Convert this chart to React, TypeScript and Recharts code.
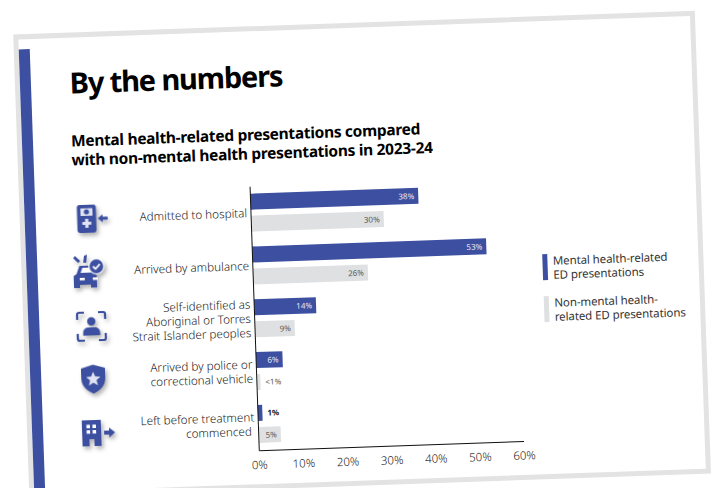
import React from 'react';
import { BarChart, Bar, XAxis, YAxis, LabelList, Legend } from 'recharts';

const BLUE = '#3c4fa0';
const GREY = '#dfe0e2';
const FONT = '"Noto Sans", sans-serif';

const categoryLines = [
  ['Admitted to hospital'],
  ['Arrived by ambulance'],
  ['Self-identified as', 'Aboriginal or Torres', 'Strait Islander peoples'],
  ['Arrived by police or', 'correctional vehicle'],
  ['Left before treatment', 'commenced\u00a0'],
];
const mentalValues = [38, 53, 14, 6, 1];
const otherValues = [30, 26, 9, 0.8, 5];
const mentalLabels = ['38%', '53%', '14%', '6%', '1%'];
const otherLabels = ['30%', '26%', '9%', '<1%', '5%'];
const xTicks = [0, 10, 20, 30, 40, 50, 60];

const tableData = categoryLines.map((lines, i) => ({
  name: lines.join(' '),
  mental: mentalValues[i],
  other: otherValues[i],
  mentalLabel: mentalLabels[i],
  otherLabel: otherLabels[i],
}));

const seriesNames = [
  ['Mental health-related', 'ED presentations'],
  ['Non-mental health-', 'related ED presentations'],
];

// Small pictograms shown to the left of each row
const DeviceIcon = () => (
  <g transform="translate(-1,0)">
    <rect x={-9.5} y={-14} width={19} height={28} rx={2.5} fill={BLUE} />
    <rect x={-6} y={-10.5} width={12} height={7.5} fill="#dfe3f2" />
    <circle cx={0} cy={-7} r={2.6} fill={BLUE} />
    <path d="M-1.6 0h3.2v2.9h2.9v3.2h-2.9v2.9h-3.2v-2.9h-2.9v-3.2h2.9z" fill="#dfe3f2" />
    <path d="M11 0l5-4v2.6h5v2.8h-5v2.6z" fill={BLUE} />
  </g>
);

const CarIcon = () => (
  <g transform="translate(0,4)">
    <path d="M-13 -2l3 -8h12l3 8 2 2v12h-6v-3h-11v3h-6v-12z" fill={BLUE} />
    <path d="M-9 -3l2 -5h7l2 5z" fill="#fff" />
    <rect x={-10} y={2} width={5} height={2.5} fill="#fff" />
    <rect x={3} y={2} width={5} height={2.5} fill="#fff" />
    <path d="M-5 -20l-1 7h3l1-8zM-14 -20l5 5-2 2-5-5z" fill={BLUE} />
    <circle cx={7} cy={-9} r={7.5} fill={BLUE} stroke="#fff" strokeWidth={1.2} />
    <path d="M3.6 -9l2.5 2.5 4.4-4.6" fill="none" stroke="#fff" strokeWidth={1.8} />
  </g>
);

const PersonIcon = () => (
  <g transform="translate(0,2)">
    <path
      d="M-14 -7v-5a2 2 0 0 1 2-2h5M7 -14h5a2 2 0 0 1 2 2v5M14 7v5a2 2 0 0 1-2 2h-5M-7 14h-5a2 2 0 0 1-2-2v-5"
      fill="none"
      stroke={BLUE}
      strokeWidth={2.2}
    />
    <circle cx={0} cy={-5} r={4.2} fill={BLUE} />
    <path d="M-8.5 9v-3a5 5 0 0 1 5-5h7a5 5 0 0 1 5 5v3z" fill={BLUE} />
  </g>
);

const ShieldIcon = () => (
  <g transform="translate(0,2)">
    <path d="M0 -14.5l12 3.5v10c0 8-6 12.5-12 15.5-6-3-12-7.500-12-15.500v-10z" fill={BLUE} />
    <path d="M0 -7.500l2 4.800 5.200.4-4 3.400 1.300 5.100-4.500-2.800-4.500 2.800 1.300-5.100-4-3.400 5.200-.4z" fill="#dfe3f2" />
  </g>
);

const BuildingIcon = () => (
  <g transform="translate(1,3)">
    <path d="M-14 -13h19v4v22h-7v-7h-5v7h-7z" fill={BLUE} />
    {[-9.5, -3.5].map((x) =>
      [-8.5, -3].map((y) => <rect key={`${x}${y}`} x={x} y={y} width={3.5} height={3.5} fill="#fff" />),
    )}
    <path d="M8 -2h5v-3l6 5-6 5v-3h-5z" fill={BLUE} />
  </g>
);

const rowIcons = [DeviceIcon, CarIcon, PersonIcon, ShieldIcon, BuildingIcon];

const CategoryTick = ({ y, index }: any) => {
  const lines = categoryLines[index];
  const Icon = rowIcons[index];
  const first = -((lines.length - 1) * 14.2) / 2;
  return (
    <g>
      <g transform={`translate(80,${y})`} style={{ filter: 'drop-shadow(2px 3px 2px rgba(0,0,0,0.3))' }}>
        <Icon />
      </g>
      <text x={239.6} y={y} textAnchor="end" fontFamily={FONT} fontSize={11.7} fontWeight={300} fill="#222">
        {lines.map((line, i) => (
          <tspan key={line} x={239.6} y={y + first + i * 14.2 + 4}>
            {line}
          </tspan>
        ))}
      </text>
    </g>
  );
};

// Labels sit inside the bar end, or just past it when the bar is too short
const barLabel = (insideColor: string, outsideColor: string, outsideWeight: number) => (props: any) => {
  const { x, y, width, height, value } = props;
  const outside = width < 8;
  return (
    <text
      x={outside ? x + width + 5 : x + width - 4}
      y={y + height / 2 + 3}
      textAnchor={outside ? 'start' : 'end'}
      fontFamily={FONT}
      fontSize={8}
      fontWeight={outside ? outsideWeight : 400}
      fill={outside ? outsideColor : insideColor}
    >
      {value}
    </text>
  );
};

const SeriesKey = () => (
  <div
    style={{
      position: 'relative',
      fontFamily: FONT,
      fontSize: 11.5,
      lineHeight: '14px',
      letterSpacing: -0.1,
      color: '#333',
    }}
  >
    {seriesNames.map((lines, i) => (
      <div key={lines[0]} style={{ position: 'absolute', left: 0, top: i * 42.8, whiteSpace: 'nowrap' }}>
        <div style={{ position: 'absolute', left: 0, top: 0, width: 5.7, height: 26, background: i === 0 ? BLUE : GREY }} />
        <div style={{ position: 'absolute', left: 10.8, top: 0 }}>
          {lines.map((line) => (
            <div key={line}>{line}</div>
          ))}
        </div>
      </div>
    ))}
  </div>
);

export default function App() {
  return (
    <div style={{ position: 'fixed', left: 0, top: 0, width: 713, height: 488, overflow: 'hidden', background: '#fff' }}>
      <div
        style={{
          position: 'absolute',
          left: 0,
          top: 0,
          width: 713,
          height: 560,
          transform: 'rotate(-2deg)',
          transformOrigin: '0 0',
        }}
      >
        <div
          style={{
            position: 'absolute',
            left: 12,
            top: 34.5,
            width: 681.5,
            height: 463,
            boxSizing: 'border-box',
            border: '5px solid #e3e3e3',
          }}
        />
        <div style={{ position: 'absolute', left: 16.6, top: 50, width: 11.7, height: 500, background: BLUE }} />
        <div
          style={{
            position: 'absolute',
            left: 66.7,
            top: 61,
            fontFamily: FONT,
            fontWeight: 700,
            fontSize: 29,
            letterSpacing: -1.14,
            lineHeight: '48px',
            color: '#000',
            whiteSpace: 'nowrap',
          }}
        >
          By the numbers
        </div>
        <div
          style={{
            position: 'absolute',
            left: 66,
            top: 134,
            fontFamily: FONT,
            fontWeight: 700,
            fontSize: 15.5,
            letterSpacing: -0.3,
            lineHeight: '19.3px',
            color: '#000',
            whiteSpace: 'nowrap',
          }}
        >
          <div>Mental health-related presentations compared</div>
          <div>with non-mental health presentations in 2023-24</div>
        </div>
        <div style={{ position: 'absolute', left: 0, top: 0 }}>
          <BarChart
            width={713}
            height={560}
            layout="vertical"
            data={tableData}
            barSize={16}
            barGap={6}
            margin={{ top: 195.3, right: 204.7, bottom: 70.5, left: 0 }}
          >
            <XAxis
              type="number"
              domain={[0, 60]}
              ticks={xTicks}
              tickFormatter={(v: number) => `${v}%`}
              tickLine={false}
              axisLine={{ stroke: '#111', strokeWidth: 1 }}
              tick={{ fontFamily: FONT, fontSize: 11.5, fontWeight: 300, fill: '#222' }}
              tickMargin={4}
              height={30}
              interval={0}
            />
            <YAxis
              type="category"
              dataKey="name"
              width={243.4}
              tickLine={false}
              axisLine={{ stroke: '#111', strokeWidth: 1 }}
              tick={(props: any) => <CategoryTick {...props} />}
              interval={0}
            />
            {/* centred vertical layout keeps the key from shrinking the plot area */}
            <Legend
              layout="vertical"
              align="center"
              verticalAlign="middle"
              content={() => <SeriesKey />}
              wrapperStyle={{ position: 'absolute', left: 532.6, top: 272.7, width: 160, height: 70 }}
            />
            <Bar dataKey="mental" fill={BLUE} isAnimationActive={false}>
              <LabelList dataKey="mentalLabel" content={barLabel('#e6e9f5', '#222', 700)} />
            </Bar>
            <Bar dataKey="other" fill={GREY} isAnimationActive={false}>
              <LabelList dataKey="otherLabel" content={barLabel('#5a5a5a', '#5a5a5a', 400)} />
            </Bar>
          </BarChart>
        </div>
      </div>
    </div>
  );
}
